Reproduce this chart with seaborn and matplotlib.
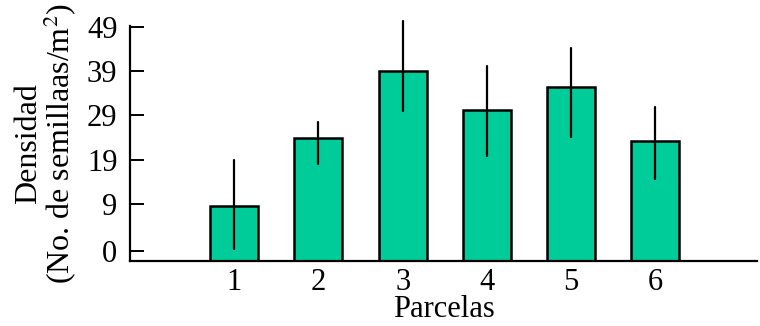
import matplotlib
matplotlib.use("Agg")
import matplotlib.pyplot as plt
import seaborn as sns
import pandas as pd

# Data
parcelas = ["1", "2", "3", "4", "5", "6"]
densidad = [8.5, 23.9, 39.0, 30.3, 35.4, 23.2]
err_low = [-1.2, 18.1, 29.9, 19.7, 24.1, 14.6]
err_high = [19.0, 27.4, 50.3, 40.1, 44.3, 30.8]

ytick_pos = [-1.7, 9, 19, 29, 39, 49]
ytick_labels = ["0", "9", "19", "29", "39", "49"]
base = -3.9

df = pd.DataFrame({"Parcela": parcelas, "Densidad": densidad})
df["altura"] = df["Densidad"] - base

sns.set_style("white", {"axes.edgecolor": "black", "text.color": "black",
                        "xtick.color": "black", "ytick.color": "black",
                        "axes.labelcolor": "black",
                        "ytick.direction": "in", "ytick.left": True})
plt.rcParams["font.family"] = ["Liberation Serif", "DejaVu Serif"]
plt.rcParams["mathtext.fontset"] = "stix"

fig = plt.figure(figsize=(7.6, 3.26), dpi=100)
ax = fig.add_axes([0.171, 0.2, 0.825, 0.72])

sns.barplot(data=df, x="Parcela", y="altura", color="#00CC99", saturation=1,
            width=0.57, edgecolor="black", linewidth=1.8, bottom=base, ax=ax)

# error bars
for i in range(len(parcelas)):
    ax.plot([i, i], [err_low[i], err_high[i]], color="black", lw=1.6,
            clip_on=False, zorder=5)

ax.set_xlim(-1.24, 6.21)
ax.set_ylim(base, 49.2)
ax.set_yticks(ytick_pos)
ax.set_yticklabels(ytick_labels)

for s in ["top", "right"]:
    ax.spines[s].set_visible(False)
ax.spines["left"].set_linewidth(1.6)
ax.spines["bottom"].set_linewidth(1.6)

ax.tick_params(axis="y", direction="in", length=10, width=1.4, pad=9,
               labelsize=22, left=True)
ax.tick_params(axis="x", length=0, pad=5, labelsize=22)

ax.set_xlabel("Parcelas", fontsize=22, labelpad=-1)
ax.set_ylabel("Densidad\n(No. de semillaas/m$^2$)", fontsize=23,
              labelpad=6, linespacing=0.95)

plt.savefig("out.png", dpi=100)
